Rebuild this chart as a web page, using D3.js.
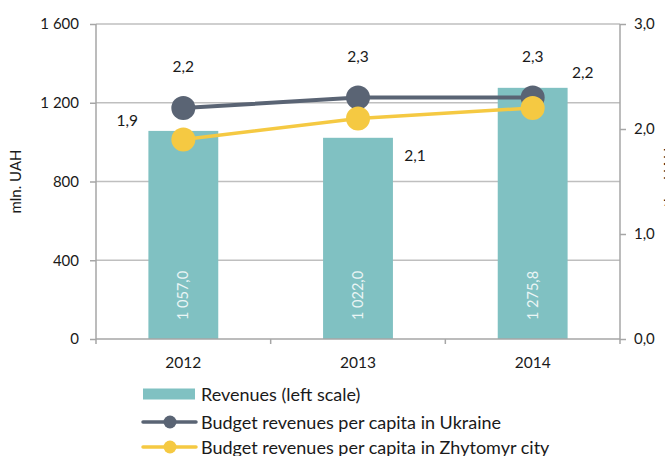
<!DOCTYPE html>
<html>
<head>
<meta charset="utf-8">
<script src="https://cdn.jsdelivr.net/npm/d3@7/dist/d3.min.js"></script>
<style>
  html, body { margin: 0; padding: 0; background: #fff; }
  svg { display: block; font-family: Lato, "Open Sans", sans-serif; }
</style>
</head>
<body>
<svg id="chart" width="665" height="456"></svg>
<script>
// Budget revenues of Zhytomyr city, 2012–2014
const years = ["2012", "2013", "2014"];
const revenues = [1057.0, 1022.0, 1275.8];          // mln. UAH, left scale
const perCapitaUkraine = [2.2, 2.3, 2.3];            // right scale
const perCapitaZhytomyr = [1.9, 2.1, 2.2];           // right scale
const leftTicks = [0, 400, 800, 1200, 1600];
const rightTicks = [0, 1, 2, 3];
const legendLabels = [
  "Revenues (left scale)",
  "Budget revenues per capita in Ukraine",
  "Budget revenues per capita in Zhytomyr city"
];
// where each Zhytomyr value label sits relative to its point
const zhLabelPlacement = ["left", "belowRight", "aboveRight"];

const colors = { bar: "#80c1c2", ukraine: "#5a6474", zhytomyr: "#f5c942", axis: "#a6a6a6", grid: "#bfbfbf" };

const W = 665, H = 456;
const margin = { top: 24, right: 45, bottom: 117, left: 96 };
const plotW = W - margin.left - margin.right;
const plotH = H - margin.top - margin.bottom;

const svg = d3.select("#chart");
const g = svg.append("g").attr("transform", `translate(${margin.left},${margin.top})`);

const x = d3.scaleBand().domain(years).range([0, plotW]).padding(0);
const yL = d3.scaleLinear().domain([0, 1600]).range([plotH, 0]);
const yR = d3.scaleLinear().domain([0, 3]).range([plotH, 0]);
const fmt1 = v => d3.format(".1f")(v).replace(".", ",");
const locale = d3.formatLocale({ decimal: ",", thousands: " ", grouping: [3], currency: ["", ""] });
const fmtLeft = locale.format(",d");
const fmtBar = locale.format(",.1f");

// horizontal gridlines
g.append("g").selectAll("line").data(leftTicks.filter(t => t > 0)).join("line")
  .attr("x1", 0).attr("x2", plotW)
  .attr("y1", d => yL(d)).attr("y2", d => yL(d))
  .attr("stroke", colors.grid).attr("stroke-width", 1.3);

// bars
const barW = x.bandwidth() * 0.4;
g.append("g").selectAll("rect").data(revenues).join("rect")
  .attr("x", (d, i) => x(years[i]) + (x.bandwidth() - barW) / 2)
  .attr("width", barW)
  .attr("y", d => yL(d))
  .attr("height", d => plotH - yL(d))
  .attr("fill", colors.bar);

// bar value labels, vertical inside the base of each bar
g.append("g").selectAll("text").data(revenues).join("text")
  .attr("transform", (d, i) => `translate(${x(years[i]) + x.bandwidth() / 2 + 5},${plotH - 19}) rotate(-90)`)
  .attr("text-anchor", "start")
  .attr("font-size", 14.5)
  .attr("fill", "#eaf5f5")
  .text(d => fmtBar(d));

// left axis
const axL = g.append("g").call(d3.axisLeft(yL).tickValues(leftTicks).tickSize(6).tickPadding(11).tickFormat(fmtLeft));
axL.select(".domain").attr("stroke", colors.axis).attr("stroke-width", 1.5).attr("d", `M-0,${plotH + 5}V0`);
axL.selectAll(".tick line").attr("stroke", colors.axis).attr("stroke-width", 1.5);
axL.selectAll(".tick text").attr("font-size", 15).attr("fill", "#1a1a1a").attr("font-family", "Lato, sans-serif");

// right axis
const axR = g.append("g").attr("transform", `translate(${plotW},0)`)
  .call(d3.axisRight(yR).tickValues(rightTicks).tickSize(6).tickPadding(8).tickFormat(fmt1));
axR.select(".domain").attr("stroke", colors.axis).attr("stroke-width", 1.5).attr("d", `M0,${plotH + 5}V0`);
axR.selectAll(".tick line").attr("stroke", colors.axis).attr("stroke-width", 1.5);
axR.selectAll(".tick text").attr("font-size", 15).attr("fill", "#1a1a1a").attr("font-family", "Lato, sans-serif");

// bottom axis: baseline, separators between categories, year labels
const axB = g.append("g").attr("transform", `translate(0,${plotH})`);
axB.append("line").attr("x1", 0).attr("x2", plotW).attr("stroke", colors.axis).attr("stroke-width", 1.5);
axB.selectAll("line.sep").data(years.slice(1)).join("line").attr("class", "sep")
  .attr("x1", d => x(d)).attr("x2", d => x(d)).attr("y1", 0).attr("y2", 5)
  .attr("stroke", colors.axis).attr("stroke-width", 1.5);
axB.selectAll("text").data(years).join("text")
  .attr("x", d => x(d) + x.bandwidth() / 2).attr("y", 29)
  .attr("text-anchor", "middle").attr("font-size", 15.5).attr("fill", "#1a1a1a")
  .text(d => d);

// axis titles (the right one runs past the page edge)
svg.append("text")
  .attr("transform", `translate(21,${margin.top + plotH / 2}) rotate(-90)`)
  .attr("text-anchor", "middle").attr("font-size", 15).attr("fill", "#1a1a1a")
  .text("mln. UAH");
svg.append("text")
  .attr("transform", `translate(675,${margin.top + plotH / 2 - 4}) rotate(-90)`)
  .attr("text-anchor", "middle").attr("font-size", 15).attr("fill", "#1a1a1a")
  .text("ths. UAH");

// per-capita lines
const cx = i => x(years[i]) + x.bandwidth() / 2;
const line = d3.line().x((d, i) => cx(i)).y(d => yR(d));

function drawSeries(values, color, width) {
  const s = g.append("g");
  s.append("path").datum(values).attr("d", line)
    .attr("fill", "none").attr("stroke", color).attr("stroke-width", width);
  s.selectAll("circle").data(values).join("circle")
    .attr("cx", (d, i) => cx(i)).attr("cy", d => yR(d)).attr("r", 12)
    .attr("fill", color);
  return s;
}
drawSeries(perCapitaUkraine, colors.ukraine, 4);
drawSeries(perCapitaZhytomyr, colors.zhytomyr, 3.5);

// value labels for the lines
g.append("g").selectAll("text").data(perCapitaUkraine).join("text")
  .attr("x", (d, i) => cx(i)).attr("y", d => yR(d) - 36)
  .attr("text-anchor", "middle").attr("font-size", 15.5).attr("fill", "#1a1a1a")
  .text(d => fmt1(d));

const placementOffset = {
  left: [-56, -14],
  belowRight: [57, 42],
  aboveRight: [50, -30]
};
g.append("g").selectAll("text").data(perCapitaZhytomyr).join("text")
  .attr("x", (d, i) => cx(i) + placementOffset[zhLabelPlacement[i]][0])
  .attr("y", (d, i) => yR(d) + placementOffset[zhLabelPlacement[i]][1])
  .attr("text-anchor", "middle").attr("font-size", 15.5).attr("fill", "#1a1a1a")
  .text(d => fmt1(d));

// legend
const legend = svg.append("g").attr("transform", "translate(143,0)");
const rows = [394, 422, 447];
legend.append("rect").attr("x", 0).attr("y", rows[0] - 5.5).attr("width", 52).attr("height", 11).attr("fill", colors.bar);
[[colors.ukraine, 1], [colors.zhytomyr, 2]].forEach(([c, r]) => {
  legend.append("line").attr("x1", 0).attr("x2", 53).attr("y1", rows[r]).attr("y2", rows[r])
    .attr("stroke", c).attr("stroke-width", 3.5).attr("stroke-linecap", "round");
  legend.append("circle").attr("cx", 27).attr("cy", rows[r]).attr("r", 6.5).attr("fill", c);
});
legend.selectAll("text").data(legendLabels).join("text")
  .attr("x", 58).attr("y", (d, i) => rows[i] + 6.5)
  .attr("font-size", 18).attr("fill", "#1a1a1a")
  .text(d => d);
</script>
</body>
</html>
